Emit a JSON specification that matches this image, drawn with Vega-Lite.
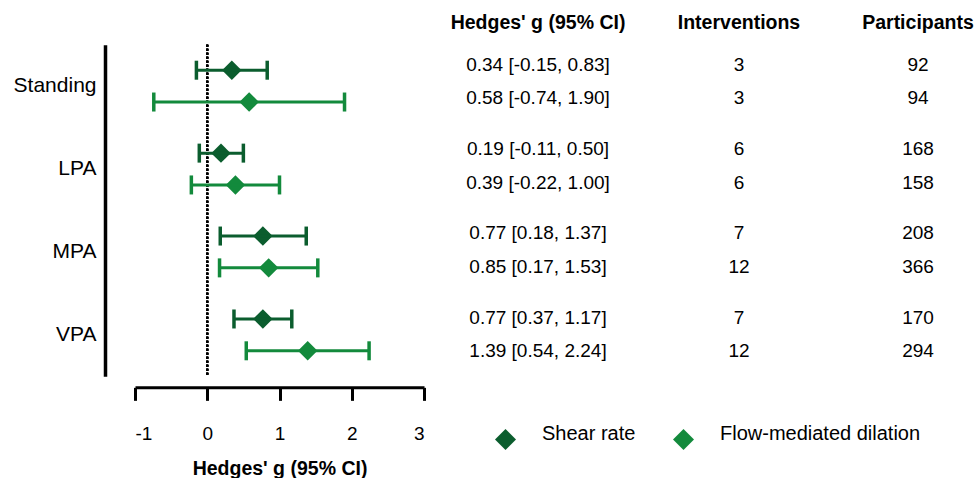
{
  "$schema": "https://vega.github.io/schema/vega-lite/v6.json",
  "padding": {"left": 13, "top": 13, "right": 0, "bottom": 0},
  "background": "white",
  "bounds": "flush",
  "center": true,
  "spacing": 60,
  "config": {
    "view": {"stroke": null},
    "font": "Liberation Sans",
    "title": {"fontSize": 19.5, "fontWeight": "bold", "color": "black", "anchor": "middle", "baseline": "alphabetic", "offset": 5.5}
  },
  "data": {
    "values": [
      {"category": "Standing", "measure": "Shear rate", "g": 0.34, "lo": -0.15, "hi": 0.83, "ci": "0.34 [-0.15, 0.83]", "interventions": 3, "participants": 92},
      {"category": "Standing", "measure": "Flow-mediated dilation", "g": 0.58, "lo": -0.74, "hi": 1.90, "ci": "0.58 [-0.74, 1.90]", "interventions": 3, "participants": 94},
      {"category": "LPA", "measure": "Shear rate", "g": 0.19, "lo": -0.11, "hi": 0.50, "ci": "0.19 [-0.11, 0.50]", "interventions": 6, "participants": 168},
      {"category": "LPA", "measure": "Flow-mediated dilation", "g": 0.39, "lo": -0.22, "hi": 1.00, "ci": "0.39 [-0.22, 1.00]", "interventions": 6, "participants": 158},
      {"category": "MPA", "measure": "Shear rate", "g": 0.77, "lo": 0.18, "hi": 1.37, "ci": "0.77 [0.18, 1.37]", "interventions": 7, "participants": 208},
      {"category": "MPA", "measure": "Flow-mediated dilation", "g": 0.85, "lo": 0.17, "hi": 1.53, "ci": "0.85 [0.17, 1.53]", "interventions": 12, "participants": 366},
      {"category": "VPA", "measure": "Shear rate", "g": 0.77, "lo": 0.37, "hi": 1.17, "ci": "0.77 [0.37, 1.17]", "interventions": 7, "participants": 170},
      {"category": "VPA", "measure": "Flow-mediated dilation", "g": 1.39, "lo": 0.54, "hi": 2.24, "ci": "1.39 [0.54, 2.24]", "interventions": 12, "participants": 294}
    ]
  },
  "resolve": {"scale": {"x": "independent", "y": "independent", "yOffset": "independent"}},
  "hconcat": [
    {
      "width": 289,
      "height": 331.7,
      "encoding": {
        "y": {"field": "category", "type": "nominal", "sort": ["Standing", "LPA", "MPA", "VPA"],
              "scale": {"type": "band", "paddingInner": 0, "paddingOuter": 0},
              "axis": {"title": null, "ticks": false, "offset": 30, "labelPadding": 9, "labelFontSize": 21, "labelColor": "black", "domainColor": "black", "domainWidth": 3.5, "grid": false}},
        "yOffset": {"field": "measure", "type": "nominal", "sort": ["Shear rate", "Flow-mediated dilation"], "scale": {"type": "band", "paddingInner": 0, "paddingOuter": 0.303}}
      },
      "layer": [
        {
          "mark": {"type": "rule", "strokeDash": [2, 2], "strokeWidth": 2, "color": "black"},
          "encoding": {"x": {"datum": 0, "type": "quantitative"}, "y": null, "yOffset": null}
        },
        {
          "mark": {"type": "point", "shape": "diamond", "filled": true, "size": 380, "opacity": 1},
          "encoding": {
            "x": {"field": "g", "type": "quantitative",
                  "scale": {"domain": [-1, 3], "nice": false, "zero": false},
                  "axis": {"values": [-1, 0, 1, 2, 3], "labelExpr": "'' + datum.value", "grid": false, "offset": 11, "tickSize": 13, "tickWidth": 3, "tickColor": "black", "domainWidth": 3, "domainColor": "black",
                           "labelFontSize": 19, "labelColor": "black", "labelPadding": 24, "title": "Hedges' g (95% CI)", "titleFontSize": 19.5, "titleFontWeight": "bold", "titleColor": "black", "titlePadding": 16}},
            "color": {"field": "measure", "type": "nominal",
                      "scale": {"domain": ["Shear rate", "Flow-mediated dilation"], "range": ["#0b5d2e", "#138a3c"]},
                      "legend": {"title": null, "orient": "none", "legendX": 360, "legendY": 390, "direction": "horizontal", "symbolType": "diamond", "symbolSize": 440, "symbolStrokeWidth": 0, "symbolOpacity": 1,
                                 "labelFontSize": 20, "labelOffset": 26, "labelLimit": 0, "columnPadding": 37, "labelColor": "black", "labelBaseline": "alphabetic", "padding": 0}}
          }
        },
        {
          "mark": {"type": "rule", "strokeWidth": 3, "opacity": 1},
          "encoding": {
            "x": {"field": "lo", "type": "quantitative"},
            "x2": {"field": "hi"},
            "color": {"field": "measure", "type": "nominal"}
          }
        },
        {
          "mark": {"type": "tick", "thickness": 3.5, "size": 19, "opacity": 1},
          "encoding": {
            "x": {"field": "lo", "type": "quantitative"},
            "color": {"field": "measure", "type": "nominal"}
          }
        },
        {
          "mark": {"type": "tick", "thickness": 3.5, "size": 19, "opacity": 1},
          "encoding": {
            "x": {"field": "hi", "type": "quantitative"},
            "color": {"field": "measure", "type": "nominal"}
          }
        }
      ]
    },
    {
      "width": 108,
      "height": 342.24,
      "title": {"text": "Hedges' g (95% CI)"},
      "mark": {"type": "text", "fontSize": 19, "color": "black"},
      "encoding": {
        "y": {"field": "category", "type": "nominal", "sort": ["Standing", "LPA", "MPA", "VPA"], "scale": {"type": "band", "paddingInner": 0, "paddingOuter": 0.0293, "align": 0}, "axis": null},
        "yOffset": {"field": "measure", "type": "nominal", "sort": ["Shear rate", "Flow-mediated dilation"], "scale": {"type": "band", "paddingInner": 0, "paddingOuter": 0.2475}},
        "text": {"field": "ci", "type": "nominal"}
      }
    },
    {
      "width": 174,
      "height": 342.24,
      "title": {"text": "Interventions"},
      "mark": {"type": "text", "fontSize": 19, "color": "black"},
      "encoding": {
        "y": {"field": "category", "type": "nominal", "sort": ["Standing", "LPA", "MPA", "VPA"], "scale": {"type": "band", "paddingInner": 0, "paddingOuter": 0.0293, "align": 0}, "axis": null},
        "yOffset": {"field": "measure", "type": "nominal", "sort": ["Shear rate", "Flow-mediated dilation"], "scale": {"type": "band", "paddingInner": 0, "paddingOuter": 0.2475}},
        "text": {"field": "interventions", "type": "quantitative"}
      }
    },
    {
      "width": 64,
      "height": 342.24,
      "title": {"text": "Participants"},
      "mark": {"type": "text", "fontSize": 19, "color": "black"},
      "encoding": {
        "y": {"field": "category", "type": "nominal", "sort": ["Standing", "LPA", "MPA", "VPA"], "scale": {"type": "band", "paddingInner": 0, "paddingOuter": 0.0293, "align": 0}, "axis": null},
        "yOffset": {"field": "measure", "type": "nominal", "sort": ["Shear rate", "Flow-mediated dilation"], "scale": {"type": "band", "paddingInner": 0, "paddingOuter": 0.2475}},
        "text": {"field": "participants", "type": "quantitative"}
      }
    }
  ]
}
